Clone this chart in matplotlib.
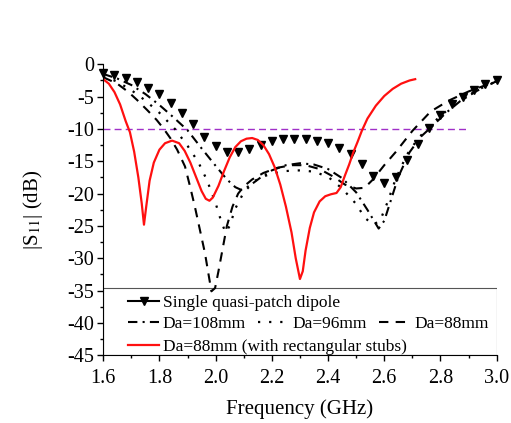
import matplotlib
matplotlib.use("Agg")
import matplotlib.pyplot as plt
from matplotlib.lines import Line2D
from matplotlib.patches import Rectangle
from matplotlib.ticker import MultipleLocator

plt.rcParams['font.family'] = ['Liberation Serif', 'DejaVu Serif']
plt.rcParams['mathtext.fontset'] = 'stix'
plt.rcParams['axes.unicode_minus'] = False

# single quasi-patch dipole (triangle markers, every 0.04 GHz)
freqSingle = [1.60 + 0.04 * i for i in range(36)]
s11Single = [-1.4, -1.6, -2.1, -2.8, -3.7, -4.6, -6.0, -7.5, -9.2, -11.2,
             -12.7, -13.6, -13.6, -13.1, -12.5, -11.8, -11.6, -11.6, -11.6, -11.9,
             -12.2, -12.9, -13.9, -15.4, -17.2, -18.3, -17.5, -14.8, -12.4, -9.9,
             -7.9, -6.1, -5.0, -4.0, -3.1, -2.5]

# Da = 108 mm (dash-dot)
freq108 = [1.60, 1.65, 1.70, 1.75, 1.80, 1.85, 1.90, 1.95, 2.00, 2.04, 2.07, 2.09,
           2.12, 2.16, 2.20, 2.25, 2.30, 2.35, 2.40, 2.45, 2.50, 2.54, 2.58, 2.60,
           2.62, 2.65, 2.69, 2.73, 2.77, 2.82, 2.87, 2.93, 3.00]
s11108 = [-1.5, -2.2, -3.2, -4.6, -6.3, -8.2, -10.2, -13.0, -15.7, -17.8, -19.0, -19.4,
          -18.8, -17.5, -16.4, -15.6, -15.3, -15.5, -16.2, -17.6, -19.8, -22.5, -25.4, -24.2,
          -21.5, -17.4, -13.6, -11.2, -9.6, -7.5, -5.7, -4.1, -2.6]

# Da = 96 mm (dotted)
freq96 = [1.60, 1.65, 1.70, 1.75, 1.80, 1.855, 1.90, 1.938, 1.97, 2.00, 2.02, 2.035,
          2.05, 2.07, 2.10, 2.14, 2.19, 2.25, 2.30, 2.35, 2.40, 2.45, 2.50, 2.53,
          2.56, 2.585, 2.61, 2.64, 2.68, 2.72, 2.76, 2.81, 2.87, 2.93, 3.00]
s1196 = [-1.8, -2.7, -4.0, -5.6, -7.5, -10.0, -12.6, -15.1, -18.0, -21.5, -24.3, -26.0,
         -25.0, -22.3, -19.8, -18.0, -17.0, -16.5, -16.4, -16.6, -17.4, -19.2, -21.6, -23.7,
         -24.8, -24.2, -21.5, -17.8, -14.0, -11.5, -9.6, -7.6, -5.6, -4.0, -2.6]

# Da = 88 mm (dashed)
freq88 = [1.60, 1.65, 1.69, 1.72, 1.757, 1.79, 1.814, 1.84, 1.863, 1.891, 1.909, 1.926,
          1.944, 1.962, 1.974, 1.985, 1.998, 2.01, 2.025, 2.04, 2.06, 2.08, 2.10, 2.13,
          2.17, 2.22, 2.27, 2.32, 2.37, 2.42, 2.46, 2.50, 2.53, 2.56, 2.60, 2.64,
          2.70, 2.765, 2.83, 2.90, 3.00]
s1188 = [-2.0, -3.0, -4.3, -5.5, -7.1, -8.6, -9.9, -11.5, -13.2, -15.8, -18.9, -22.0,
         -25.6, -29.2, -32.3, -35.1, -34.6, -32.0, -28.5, -25.0, -22.0, -20.0, -18.9, -17.8,
         -16.8, -16.0, -15.6, -15.6, -16.2, -17.4, -18.6, -19.2, -19.1, -17.8, -15.6, -13.6,
         -10.3, -7.3, -5.6, -4.2, -2.6]

# Da = 88 mm with rectangular stubs (red)
freqStubs = [1.600, 1.620, 1.640, 1.660, 1.680, 1.695, 1.710, 1.725, 1.737, 1.745,
             1.753, 1.765, 1.780, 1.800, 1.820, 1.845, 1.870, 1.890, 1.910, 1.930,
             1.950, 1.965, 1.978, 1.990, 2.010, 2.030, 2.050, 2.070, 2.090, 2.110,
             2.130, 2.150, 2.170, 2.190, 2.210, 2.230, 2.250, 2.270, 2.285, 2.300,
             2.310, 2.320, 2.335, 2.350, 2.370, 2.390, 2.410, 2.430, 2.445, 2.460,
             2.475, 2.490, 2.505, 2.520, 2.540, 2.570, 2.600, 2.630, 2.660, 2.690, 2.710]
s11Stubs = [-2.3, -3.0, -4.3, -6.2, -8.8, -10.5, -13.5, -17.5, -21.5, -24.8,
            -22.0, -18.0, -15.2, -13.2, -12.2, -11.8, -12.2, -13.4, -15.2, -17.4,
            -19.6, -20.8, -21.1, -20.6, -18.8, -16.5, -14.4, -12.8, -11.9, -11.5,
            -11.4, -11.7, -12.5, -13.9, -15.9, -18.6, -22.0, -26.0, -30.0, -33.2,
            -32.0, -28.8, -25.3, -22.9, -21.2, -20.4, -20.1, -19.9, -19.0, -17.2,
            -15.5, -13.6, -12.0, -10.3, -8.4, -6.4, -4.9, -3.8, -3.0, -2.5, -2.3]

refFreq = [1.6, 2.89]
refLevel = [-10, -10]

fig = plt.figure(figsize=(5.11, 4.23), dpi=100)
ax = fig.add_axes([0.202, 0.160, 0.770, 0.688])

ax.plot(refFreq, refLevel, color='#a030c8', lw=1.0, dashes=(5, 3))
ax.plot(freqSingle, s11Single, ls='none', marker='v', ms=5.8, color='k', clip_on=False)
l108, = ax.plot(freq108, s11108, color='k', lw=1.5, ls=(0, (4.5, 2.5, 1, 2.5)))
l96, = ax.plot(freq96, s1196, color='k', lw=1.6, ls=(0, (1, 4)))
l88, = ax.plot(freq88, s1188, color='k', lw=1.5, ls=(0, (4.5, 3.5)))
lStubs, = ax.plot(freqStubs, s11Stubs, color='#ff1010', lw=1.6)

ax.set_xlim(1.6, 3.0)
ax.set_ylim(-45, 0)
ax.xaxis.set_major_locator(MultipleLocator(0.2))
ax.xaxis.set_minor_locator(MultipleLocator(0.1))
ax.yaxis.set_major_locator(MultipleLocator(5))
ax.yaxis.set_minor_locator(MultipleLocator(2.5))
ax.xaxis.set_major_formatter(plt.FuncFormatter(lambda v, p: f"{v:.1f}"))
ax.tick_params(which='major', direction='out', length=4.5, width=1, labelsize=14.5, pad=2)
ax.tick_params(axis='x', which='major', pad=5)
ax.tick_params(which='minor', direction='out', length=2.5, width=1)
ax.spines['top'].set_visible(False)
ax.spines['right'].set_visible(False)

ax.set_xlabel("Frequency (GHz)", fontsize=15)
ax.set_ylabel(r"|S$_{\rm 11}$| (dB)", fontsize=15)
ax.xaxis.set_label_coords(0.5, -0.15)
ax.yaxis.set_label_coords(-0.148, 0.5)

# legend box and rows
ax.add_patch(Rectangle((0, 0), 1, 0.233, transform=ax.transAxes, fill=False,
                       edgecolor='#555555', lw=0.8, zorder=1))
singleProxy = Line2D([], [], color='k', lw=1.5, marker='v', ms=5.8)
legOpts = dict(loc='center left', frameon=False, fontsize=12.5, borderpad=0,
               borderaxespad=0, handlelength=1.8, handletextpad=0.2)
leg1 = ax.legend([singleProxy], ["Single quasi-patch dipole"],
                 bbox_to_anchor=(0.063, 0.180), **legOpts)
ax.add_artist(leg1)
leg2 = ax.legend([l108, l96, l88], ["Da=108mm", "Da=96mm", "Da=88mm"], ncol=3,
                 columnspacing=0.7, bbox_to_anchor=(0.063, 0.108), **legOpts)
ax.add_artist(leg2)
ax.legend([lStubs], ["Da=88mm (with rectangular stubs)"],
          bbox_to_anchor=(0.063, 0.029), **legOpts)

fig.savefig("out.png", dpi=100)
